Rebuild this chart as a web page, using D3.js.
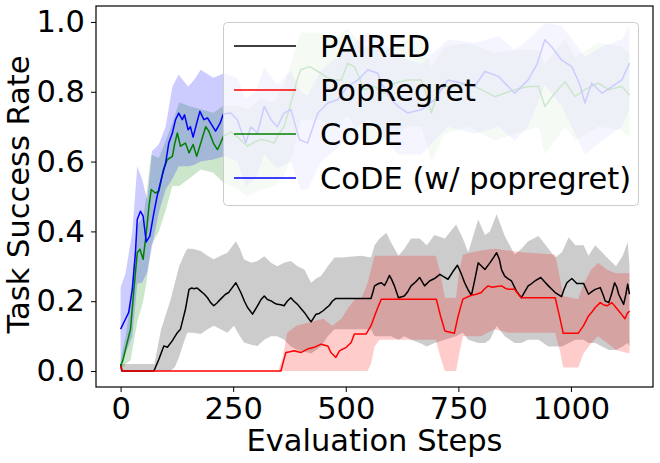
<!DOCTYPE html>
<html>
<head>
<meta charset="utf-8">
<script src="https://d3js.org/d3.v7.min.js"></script>
<style>
  body { margin: 0; background: #fff; }
  svg text { font-family: "DejaVu Sans", sans-serif; }
</style>
</head>
<body>
<div id="chart"></div>
<script>
// PAIRED
var pairedSteps = [0,3,74,85,96,104,115,126,133,144,152,158,163,170,178,186,193,200,207,214,222,233,240,245,256,267,275,282,293,304,312,319,326,334,341,348,356,363,370,378,385,393,400,408,415,423,434,441,449,456,463,470,478,556,560,564,572,579,586,592,597,602,608,617,630,638,645,655,664,675,686,697,709,718,727,738,748,756,764,772,779,787,794,809,820,828,835,841,846,853,860,868,879,890,898,905,912,920,933,942,950,957,965,979,985,991,1002,1013,1028,1039,1047,1054,1065,1071,1076,1084,1090,1097,1102,1106,1117,1122,1126,1130];
var pairedMean = [0.02,0,0,0.034,0.072,0.068,0.087,0.11,0.12,0.177,0.234,0.238,0.236,0.238,0.229,0.22,0.21,0.196,0.187,0.195,0.206,0.22,0.225,0.234,0.253,0.225,0.2,0.182,0.163,0.187,0.205,0.215,0.205,0.201,0.195,0.191,0.19,0.187,0.2,0.21,0.2,0.191,0.18,0.168,0.155,0.141,0.163,0.165,0.172,0.18,0.187,0.2,0.208,0.208,0.225,0.244,0.25,0.253,0.245,0.26,0.274,0.262,0.244,0.21,0.215,0.228,0.244,0.255,0.268,0.244,0.258,0.265,0.277,0.27,0.263,0.285,0.303,0.28,0.253,0.232,0.217,0.265,0.31,0.291,0.31,0.325,0.339,0.32,0.29,0.272,0.265,0.258,0.229,0.21,0.228,0.244,0.25,0.258,0.268,0.255,0.244,0.235,0.225,0.213,0.235,0.253,0.265,0.251,0.251,0.22,0.228,0.234,0.239,0.22,0.201,0.196,0.22,0.253,0.24,0.22,0.191,0.22,0.249,0.22];
var pairedBandSteps = [0,75,90,100,110,120,130,140,148,160,178,193,207,222,237,252,256,265,274,290,304,319,334,348,363,378,393,408,423,434,445,460,475,490,534,556,564,575,590,600,617,630,645,664,680,697,720,745,760,772,794,809,820,835,853,875,890,905,928,950,965,980,995,1010,1028,1039,1054,1069,1084,1100,1115,1126,1130];
var pairedLow = [0,0,0,0,0,0.01,0.04,0.08,0.11,0.11,0.106,0.12,0.13,0.12,0.11,0.13,0.12,0.1,0.082,0.075,0.072,0.09,0.1,0.1,0.09,0.07,0.06,0.055,0.05,0.06,0.07,0.1,0.12,0.12,0.12,0.12,0.1,0.1,0.1,0.1,0.09,0.1,0.09,0.08,0.07,0.08,0.09,0.1,0.11,0.09,0.08,0.08,0.09,0.13,0.1,0.08,0.08,0.09,0.09,0.07,0.07,0.07,0.08,0.09,0.09,0.08,0.08,0.07,0.06,0.06,0.07,0.08,0.07];
var pairedHigh = [0.02,0.02,0.12,0.16,0.2,0.25,0.3,0.33,0.35,0.35,0.344,0.33,0.32,0.33,0.339,0.365,0.372,0.35,0.32,0.31,0.315,0.329,0.31,0.3,0.31,0.315,0.3,0.291,0.253,0.265,0.272,0.3,0.325,0.325,0.33,0.325,0.36,0.38,0.396,0.37,0.33,0.35,0.38,0.38,0.36,0.39,0.38,0.42,0.38,0.34,0.434,0.39,0.4,0.449,0.387,0.334,0.35,0.372,0.387,0.35,0.325,0.34,0.383,0.36,0.36,0.33,0.36,0.34,0.32,0.3,0.33,0.37,0.3];

// PopRegret
var popSteps = [0,4,356,362,367,376,386,400,415,430,445,460,467,478,486,501,512,519,534,545,556,564,572,579,701,710,720,741,750,760,779,790,801,808,816,825,835,846,853,861,875,882,890,965,974,983,1016,1028,1039,1047,1054,1065,1072,1080,1091,1100,1109,1120,1125,1130];
var popMean = [0.015,0,0,0.03,0.053,0.055,0.058,0.053,0.063,0.068,0.077,0.072,0.053,0.039,0.058,0.068,0.082,0.106,0.106,0.106,0.13,0.158,0.185,0.206,0.206,0.16,0.115,0.108,0.16,0.206,0.217,0.22,0.225,0.235,0.244,0.24,0.242,0.244,0.238,0.234,0.234,0.222,0.21,0.21,0.16,0.108,0.108,0.13,0.158,0.17,0.182,0.196,0.19,0.187,0.196,0.182,0.168,0.15,0.165,0.172];
var popBandSteps = [0,350,360,370,390,420,450,470,490,505,520,535,548,556,564,575,590,700,710,720,745,752,760,800,830,860,890,965,975,983,1016,1028,1045,1060,1080,1100,1130];
var popLow = [0,0,0,0,0,0,0,0,0,0,0,0,0,0.02,0.07,0.09,0.09,0.09,0.04,0,0,0.05,0.1,0.1,0.12,0.11,0.11,0.11,0.06,0.01,0.01,0.05,0.08,0.1,0.08,0.06,0.05];
var popHigh = [0,0,0.04,0.11,0.13,0.14,0.15,0.13,0.15,0.18,0.206,0.21,0.25,0.29,0.33,0.33,0.33,0.33,0.28,0.21,0.21,0.29,0.334,0.345,0.35,0.345,0.34,0.334,0.27,0.215,0.206,0.25,0.29,0.31,0.29,0.28,0.28];

// CoDE
var codeSteps = [0,5,11,22,29,37,43,50,57,63,68,77,85,95,104,115,120,126,133,144,152,161,169,178,189,196,206,215,222,228,245,260,282,296,311,326,341,352,363,372,382,391,400,420,445,467,490,504,519,530,541,564,586,608,638,668,680,690,705,720,742,772,801,831,853,875,905,928,942,964,987,1009,1031,1061,1083,1113,1130];
var codeMean = [0.015,0.03,0.063,0.12,0.225,0.339,0.349,0.32,0.396,0.472,0.52,0.51,0.515,0.577,0.606,0.615,0.65,0.682,0.644,0.653,0.625,0.649,0.615,0.653,0.7,0.687,0.653,0.634,0.653,0.672,0.685,0.67,0.644,0.655,0.663,0.66,0.653,0.68,0.7,0.74,0.786,0.83,0.863,0.872,0.853,0.834,0.834,0.882,0.872,0.84,0.806,0.815,0.796,0.825,0.834,0.834,0.79,0.739,0.8,0.815,0.815,0.825,0.806,0.786,0.796,0.806,0.815,0.815,0.758,0.796,0.829,0.786,0.806,0.825,0.806,0.815,0.791];
var codeBandSteps = [0,11,22,37,50,57,68,85,100,115,130,150,178,206,228,260,282,311,341,363,382,400,445,467,504,541,586,638,668,690,720,772,831,875,928,942,987,1009,1061,1113,1130];
var codeLow = [0,0.02,0.03,0.14,0.2,0.25,0.36,0.4,0.46,0.53,0.53,0.549,0.577,0.568,0.54,0.52,0.5,0.52,0.53,0.56,0.62,0.72,0.72,0.7,0.73,0.66,0.66,0.7,0.7,0.6,0.68,0.7,0.66,0.68,0.7,0.62,0.7,0.66,0.7,0.69,0.67];
var codeHigh = [0.03,0.1,0.2,0.42,0.44,0.5,0.62,0.61,0.66,0.71,0.77,0.76,0.75,0.74,0.76,0.76,0.75,0.78,0.77,0.82,0.9,0.97,0.97,0.95,0.98,0.93,0.92,0.95,0.95,0.87,0.93,0.94,0.91,0.92,0.92,0.88,0.95,0.9,0.94,0.93,0.91];

// CoDE (w/ popregret)
var copSteps = [0,11,18,26,33,37,44,50,57,65,74,81,92,100,107,115,122,129,137,142,150,155,161,169,176,185,193,200,211,221,228,245,259,278,289,304,319,334,348,363,378,397,415,438,460,482,504,527,549,571,579,600,616,638,668,697,727,757,786,809,839,875,905,925,942,957,979,1002,1020,1031,1046,1069,1091,1113,1130];
var copMean = [0.12,0.149,0.168,0.234,0.34,0.434,0.458,0.444,0.37,0.387,0.454,0.5,0.558,0.596,0.653,0.682,0.72,0.739,0.72,0.734,0.691,0.7,0.67,0.71,0.744,0.72,0.725,0.71,0.687,0.71,0.736,0.739,0.72,0.653,0.7,0.682,0.758,0.72,0.7,0.739,0.749,0.663,0.653,0.739,0.768,0.777,0.815,0.834,0.863,0.853,0.825,0.78,0.758,0.739,0.749,0.777,0.834,0.825,0.815,0.858,0.844,0.796,0.834,0.88,0.949,0.929,0.891,0.872,0.82,0.768,0.825,0.796,0.815,0.834,0.882];
var copBandSteps = [0,11,26,37,48,59,70,85,100,115,129,150,163,178,206,230,259,278,300,319,348,378,400,415,445,482,527,549,579,616,668,727,786,839,875,905,942,979,1031,1069,1113,1130];
var copLow = [0,0.05,0.1,0.25,0.254,0.282,0.358,0.454,0.52,0.55,0.587,0.587,0.59,0.6,0.606,0.615,0.6,0.53,0.55,0.62,0.58,0.6,0.52,0.52,0.6,0.64,0.7,0.72,0.68,0.62,0.62,0.7,0.68,0.7,0.66,0.7,0.82,0.76,0.62,0.66,0.7,0.75];
var copHigh = [0.24,0.28,0.4,0.587,0.549,0.49,0.63,0.65,0.7,0.815,0.849,0.815,0.834,0.863,0.84,0.853,0.84,0.78,0.8,0.87,0.82,0.86,0.8,0.79,0.86,0.9,0.95,0.97,0.95,0.9,0.88,0.95,0.94,0.96,0.92,0.95,0.997,0.99,0.9,0.93,0.95,0.99];

var seriesNames = ["PAIRED", "PopRegret", "CoDE", "CoDE (w/ popregret)"];
var seriesColors = ["#000000", "#ff0000", "#008000", "#0000ff"];
var yTicks = [0, 0.2, 0.4, 0.6, 0.8, 1.0];
var xTicks = [0, 250, 500, 750, 1000];

var series = [
  {steps: pairedSteps, mean: pairedMean, bandSteps: pairedBandSteps, low: pairedLow, high: pairedHigh},
  {steps: popSteps, mean: popMean, bandSteps: popBandSteps, low: popLow, high: popHigh},
  {steps: codeSteps, mean: codeMean, bandSteps: codeBandSteps, low: codeLow, high: codeHigh},
  {steps: copSteps, mean: copMean, bandSteps: copBandSteps, low: copLow, high: copHigh}
];

var W = 660, H = 463;
var margin = {top: 6, right: 7, bottom: 76, left: 96};
var w = W - margin.left - margin.right, h = H - margin.top - margin.bottom;
var fs = '30.5px';

var x = d3.scaleLinear().domain([-54.6, 1182.2]).range([0, w]);
var y = d3.scaleLinear().domain([-0.0457, 1.0457]).range([h, 0]);

var svg = d3.select('#chart').append('svg')
  .attr('width', W).attr('height', H);

svg.append('defs').append('clipPath').attr('id', 'clip')
  .append('rect').attr('width', w).attr('height', h);

var g = svg.append('g').attr('transform', 'translate(' + margin.left + ',' + margin.top + ')');
var plot = g.append('g').attr('clip-path', 'url(#clip)');

var area = d3.area().x(d => x(d[0])).y0(d => y(d[1])).y1(d => y(d[2]));
var line = d3.line().x(d => x(d[0])).y(d => y(d[1]));

// bandas primeiro, depois as linhas por cima
series.forEach(function(s, i) {
  var band = s.bandSteps.map((st, j) => [st, s.low[j], s.high[j]]);
  plot.append('path').datum(band)
    .attr('d', area)
    .attr('fill', seriesColors[i]).attr('fill-opacity', 0.2).attr('stroke', 'none');
});
series.forEach(function(s, i) {
  var pts = s.steps.map((st, j) => [st, s.mean[j]]);
  plot.append('path').datum(pts)
    .attr('d', line)
    .attr('fill', 'none').attr('stroke', seriesColors[i])
    .attr('stroke-width', 1.5).attr('stroke-linejoin', 'round');
});

// eixos
var xAxis = g.append('g').attr('transform', 'translate(0,' + h + ')')
  .call(d3.axisBottom(x).tickValues(xTicks).tickFormat(d3.format('d')).tickSize(5).tickPadding(5));
var yAxis = g.append('g')
  .call(d3.axisLeft(y).tickValues(yTicks).tickFormat(d3.format('.1f')).tickSize(5).tickPadding(6));
[xAxis, yAxis].forEach(function(a) {
  a.select('.domain').remove();
  a.selectAll('line').attr('stroke', '#000').attr('stroke-width', 1);
  a.selectAll('text').attr('font-size', fs).attr('fill', '#000')
    .style('font-family', '"DejaVu Sans", sans-serif');
});
xAxis.selectAll('text').attr('dy', '0.71em');

g.append('rect').attr('width', w).attr('height', h)
  .attr('fill', 'none').attr('stroke', '#000').attr('stroke-width', 1.2);

// rotulos dos eixos
svg.append('text')
  .attr('x', margin.left + w / 2).attr('y', 451)
  .attr('text-anchor', 'middle').attr('font-size', fs)
  .text('Evaluation Steps');
svg.append('text')
  .attr('transform', 'translate(29,' + (margin.top + h / 2 - 2) + ') rotate(-90)')
  .attr('text-anchor', 'middle').attr('font-size', fs)
  .text('Task Success Rate');

// legenda
var legend = svg.append('g');
legend.append('rect')
  .attr('x', 223.5).attr('y', 22.5).attr('width', 415).attr('height', 183)
  .attr('rx', 4).attr('fill', '#fff').attr('fill-opacity', 0.8)
  .attr('stroke', '#cccccc').attr('stroke-width', 1);
seriesNames.forEach(function(name, i) {
  var cy = 46 + i * 44;
  legend.append('line')
    .attr('x1', 234).attr('x2', 296).attr('y1', cy).attr('y2', cy)
    .attr('stroke', seriesColors[i]).attr('stroke-width', 1.5);
  legend.append('text')
    .attr('x', 320).attr('y', cy + 11)
    .attr('font-size', fs).attr('fill', '#000')
    .text(name);
});
</script>
</body>
</html>
